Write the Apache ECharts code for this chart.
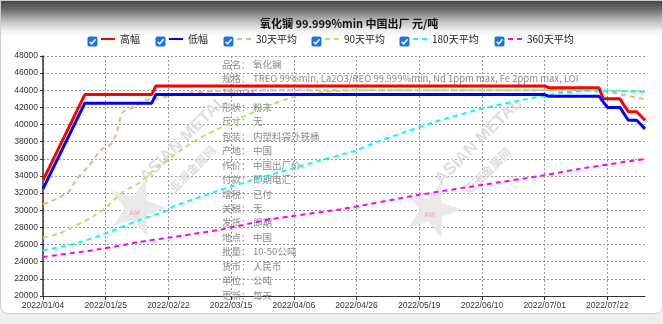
<!DOCTYPE html>
<html><head><meta charset="utf-8">
<script src="https://cdn.jsdelivr.net/npm/echarts@6/dist/echarts.min.js"></script>
<style>
html,body{margin:0;padding:0;background:#efefef;}
#panel{position:absolute;left:0;top:0;width:661px;height:312px;border:1px solid #cfcfcf;border-radius:0 0 8px 8px;
background:linear-gradient(to bottom,#474747 0px,#6a6a6a 8px,#bdbdbd 20px,#f2f2f2 30px,#ffffff 36px);}
#chart{position:absolute;left:0;top:0;width:663px;height:324px;}
</style></head>
<body><div id="panel"></div><div id="chart"></div>
<script>
// ---- data ----
const chartTitle = '氧化镧 99.999%min 中国出厂 元/吨';
const tickLabels = ['2022/01/04','2022/01/25','2022/02/22','2022/03/15','2022/04/06','2022/04/26','2022/05/19','2022/06/10','2022/07/01','2022/07/22'];
const pointCount = 145;
const seriesNames = ['高幅','低幅','30天平均','90天平均','180天平均','360天平均'];
const high = [[0,33500],[10,43500],[26,43500],[27,44500],[120,44500],[121,44300],[133,44300],[134,43000],[138,43000],[140,41500],[142,41500],[144,40500]];
const low = [[0,32500],[10,42500],[26,42500],[27,43500],[120,43500],[121,43300],[133,43300],[135,42000],[138,42000],[140,40500],[142,40500],[144,39500]];
const avg30 = [[0,30700],[3,31300],[6,32100],[8,33600],[11,35200],[14,37100],[16,37600],[17,38300],[18,39700],[19,41400],[22,42100],[24,42800],[27,43000],[31,43400],[35,43700],[43,43950],[52,44000],[120,44000],[124,43950],[133,43950],[139,43450],[144,42950]];
const avg90 = [[0,26800],[4,27300],[7,28000],[12,29300],[15,30300],[19,32100],[23,33200],[26,34500],[31,36300],[35,37700],[39,38800],[47,40700],[55,42400],[60,43200],[67,43800],[75,44000],[133,44000],[144,43900]];
const avg180 = [[0,25300],[8,26150],[15,27300],[23,28850],[30,30000],[31,30400],[42,32300],[50,33500],[57,34500],[67,35900],[75,37000],[80,38000],[87,39200],[94,40350],[105,41850],[116,43000],[120,43350],[124,43700],[132,43950],[144,43800]];
const avg360 = [[0,24550],[14,25500],[23,26300],[30,26800],[42,27700],[47,28200],[55,29000],[71,30100],[90,31800],[105,32950],[120,34100],[128,34800],[144,36000]];
const infoRows = [['品名：','氧化镧'],['规格：','TREO 99%min, La2O3/REO 99.999%min, Nd 1ppm max, Fe 2ppm max, LOI'],['1%max',''],['形状：','粉末'],['尺寸：','无'],['包装：','内塑料袋外铁桶'],['产地：','中国'],['作价：','中国出厂价'],['付款：','即期电汇'],['增税：','已付'],['关税：','无'],['发货：','即期'],['地点：','中国'],['批量：','10-50公吨'],['货币：','人民币'],['单位：','公吨'],['更新：','每天']];

// ---- styles ----
const colors = ['#ff0000','#0000ff','#f4b183','#b4e46c','#00ffff','#ff00ff'];
const legendLefts = [100,168,236,324,412,507];
const CJK = "'Noto Sans CJK SC','Noto Sans',sans-serif";
const NUM = "'Liberation Sans',Arial,sans-serif";

const categories = Array.from({length: pointCount}, (_, i) => String(i));
const data = [high, low, avg30, avg90, avg180, avg360];

const series = data.map((d, i) => ({
  name: seriesNames[i], type: 'line', data: d, symbol: 'none',
  smooth: i >= 2 ? 0.25 : false,
  z: i < 2 ? 5 : 3,
  color: colors[i],
  lineStyle: i < 2 ? {color: colors[i], width: 3} : {color: colors[i], width: 2, type: [5, 4]}
}));

const graphics = [];
function star(cx, cy, R, r) {
  const pts = [];
  for (let k = 0; k < 10; k++) {
    const a = -Math.PI / 2 + k * Math.PI / 5 + 0.3;
    const rr = k % 2 ? r : R;
    pts.push([cx + rr * Math.cos(a), cy + rr * Math.sin(a)]);
  }
  return pts;
}
[[137, 208], [432, 210]].forEach(([cx, cy]) => {
  graphics.push({type: 'polygon', z: 1, shape: {points: star(cx, cy, 30, 12)}, style: {fill: '#e9e9e9'}});
  graphics.push({type: 'text', z: 1, x: cx - 8, y: cy + 2, style: {text: 'AM', fill: '#f3b5b5', font: 'bold 7px sans-serif'}});
  graphics.push({type: 'text', z: 1, x: cx + 12, y: cy - 22, rotation: Math.PI / 4,
    style: {text: 'ASIAN METAL', fill: '#dedede', font: "bold 17px 'Liberation Sans',sans-serif", verticalAlign: 'bottom'}});
  graphics.push({type: 'text', z: 1, x: cx + 30, y: cy - 22, rotation: Math.PI / 4,
    style: {text: '亚洲金属网', fill: '#dedede', font: "bold 12px " + CJK, verticalAlign: 'top'}});
});
infoRows.forEach((row, i) => {
  const y = 64 + i * 14.44;
  graphics.push({type: 'text', z: 2, x: 222, y: y, style: {text: row[0], fill: '#8a8a8a', font: '9.5px ' + CJK, verticalAlign: 'middle'}});
  if (row[1]) graphics.push({type: 'text', z: 2, x: 253, y: y, style: {text: row[1], fill: '#8a8a8a', font: '9.5px ' + CJK, verticalAlign: 'middle'}});
});
legendLefts.forEach(l => {
  const x = l - 12.5, y = 36.5;
  graphics.push({type: 'rect', z: 10, shape: {x: x, y: y, width: 10, height: 10, r: 2}, style: {fill: '#1a73e8'}});
  graphics.push({type: 'polyline', z: 11, shape: {points: [[x + 2.2, y + 5.2], [x + 4.2, y + 7.3], [x + 8, y + 2.8]]}, style: {stroke: '#fff', lineWidth: 1.5, fill: null}});
});

const option = {
  animation: false,
  textStyle: {fontFamily: CJK},
  title: {text: chartTitle, left: 255, top: 13, textStyle: {fontSize: 11, fontWeight: 'bold', color: '#111', fontFamily: CJK}},
  legend: seriesNames.map((n, i) => ({
    data: [n], left: legendLefts[i], top: 34, itemWidth: 14, itemHeight: 8, selectedMode: false, padding: 0,
    itemStyle: {opacity: 0},
    textStyle: {fontSize: 10, color: '#222', fontFamily: CJK}
  })),
  grid: {left: 43, right: 18, top: 56, bottom: 28},
  xAxis: {
    type: 'category', data: categories, boundaryGap: false,
    axisLine: {lineStyle: {color: '#333', width: 1}},
    axisTick: {interval: 14, length: 4, lineStyle: {color: '#333'}},
    axisLabel: {interval: 14, margin: 5, fontSize: 8.5, color: '#333', fontFamily: NUM,
      formatter: (v, idx) => tickLabels[Math.round(idx / 15)] || ''},
    splitLine: {show: true, interval: 14, lineStyle: {color: '#999', type: [2, 2], width: 1}}
  },
  yAxis: {
    type: 'value', min: 20000, max: 48000, interval: 2000,
    axisLine: {show: true, lineStyle: {color: '#333', width: 1.5}},
    axisTick: {show: true, length: 3, lineStyle: {color: '#333'}},
    axisLabel: {margin: 5, fontSize: 8.5, color: '#333', fontFamily: NUM, formatter: v => String(v)},
    splitLine: {show: true, lineStyle: {color: '#999', type: [2, 2], width: 1}}
  },
  graphic: graphics,
  series: series
};
const chart = echarts.init(document.getElementById('chart'), null, {renderer: 'canvas'});
chart.setOption(option);
</script></body></html>
